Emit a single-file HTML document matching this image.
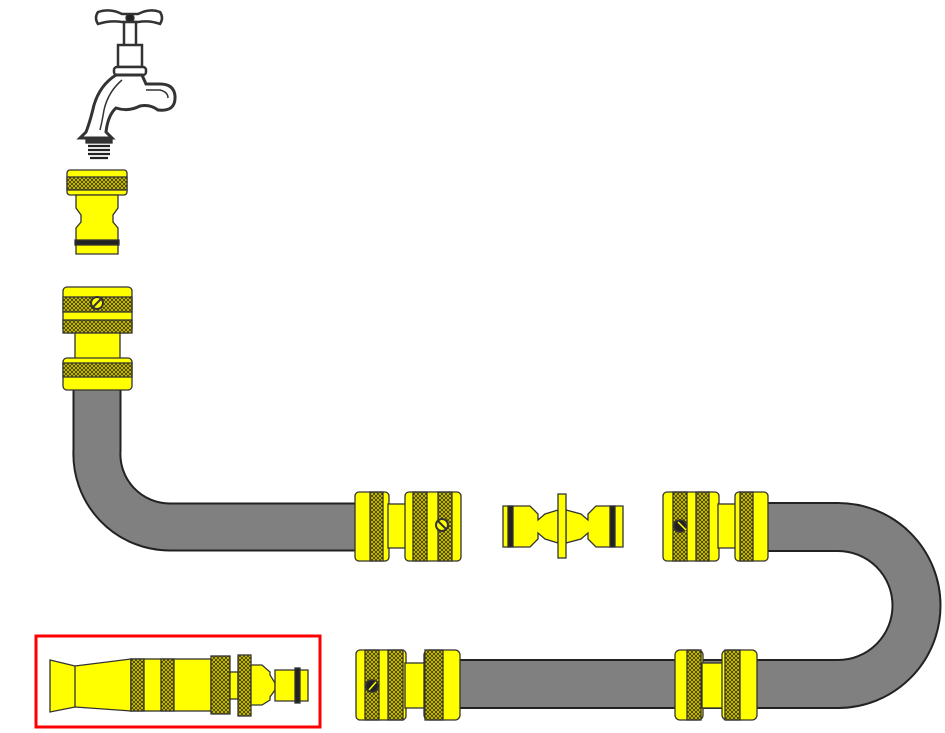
<!DOCTYPE html>
<html><head><meta charset="utf-8"><style>html,body{margin:0;padding:0;background:#fff}svg{display:block}</style></head><body>
<svg width="945" height="733" viewBox="0 0 945 733" xmlns="http://www.w3.org/2000/svg">
<defs>
<pattern id="k" width="4" height="4" patternUnits="userSpaceOnUse">
<rect width="4" height="4" fill="#e8e000"/>
<path d="M0 0L4 4M4 0L0 4" stroke="#4a4400" stroke-width="1"/>
</pattern>
</defs>
<g fill="none" stroke-linecap="butt">
<path d="M97 385 L97 450 A73 73 0 0 0 170 527 L362 527" stroke="#222" stroke-width="49"/>
<path d="M97 385 L97 450 A73 73 0 0 0 170 527 L362 527" stroke="#808080" stroke-width="45"/>
<path d="M760 527 L838 527 A78 78 0 0 1 838 684 L455 684" stroke="#222" stroke-width="50"/>
<path d="M760 527 L838 527 A78 78 0 0 1 838 684 L455 684" stroke="#808080" stroke-width="46"/>
</g>
<g stroke="#333" stroke-width="1.3">
<path d="M98 12 Q110 8 122 14 L138 14 Q150 8 160 12 Q164 18 160 24 Q150 20 138 22 L122 22 Q110 20 98 24 Q94 18 98 12Z" fill="#fff" stroke-width="2.5"/>
<circle cx="130" cy="18" r="4" fill="#222"/>
<rect x="124" y="22" width="12" height="24" fill="#fff" stroke-width="2.5"/>
<rect x="118" y="45" width="24" height="22" fill="#fff" stroke-width="2.5"/>
<rect x="114" y="67" width="32" height="8" rx="3" fill="#fff" stroke-width="2.5"/>
<path d="M116 75 Q100 85 94 105 Q90 122 86 132 L80 138 L112 138 L106 132 Q108 115 116 108 Q128 112 140 106 Q150 104 158 110 Q176 112 175 96 Q174 84 160 84 L146 84 L142 75Z" fill="#fff" stroke-width="3"/>
<path d="M122 80 Q108 92 104 110 Q102 122 100 130 M146 90 L160 90 Q168 92 168 98" fill="none" stroke-width="1.5"/>
<rect x="86" y="138" width="26" height="5" fill="#333"/>
<g stroke="#222" stroke-width="2.2"><path d="M88 146 L110 146 M88 150 L110 150 M88 154 L110 154 M90 158 L108 158"/></g>
<rect x="67" y="170" width="60" height="25" rx="3" fill="#ff0"/>
<rect x="67" y="177" width="60" height="13" fill="url(#k)"/>
<path d="M76 195 L118 195 L118 208 L113 215 L113 222 L118 228 L118 254 L76 254 L76 228 L81 222 L81 215 L76 208Z" fill="#ff0"/>
<rect x="75" y="240" width="44" height="5" fill="#222"/>
<rect x="63" y="287" width="69" height="46" rx="4" fill="#ff0"/>
<rect x="63" y="297" width="69" height="15" fill="url(#k)"/>
<rect x="63" y="320" width="69" height="13" fill="url(#k)"/>
<rect x="75" y="333" width="45" height="26" fill="#ff0"/>
<rect x="63" y="358" width="69" height="32" rx="4" fill="#ff0"/>
<rect x="63" y="363" width="69" height="14" fill="url(#k)"/>
<circle cx="97" cy="303" r="6" fill="#ff0" stroke-width="2"/>
<path d="M93 307 L101 299" stroke-width="2"/>
<rect x="355" y="492" width="34" height="69" rx="4" fill="#ff0"/>
<rect x="370" y="492" width="13" height="69" fill="url(#k)"/>
<rect x="388" y="504" width="18" height="44" fill="#ff0"/>
<rect x="405" y="492" width="56" height="69" rx="4" fill="#ff0"/>
<rect x="413" y="492" width="14" height="69" fill="url(#k)"/>
<rect x="438" y="492" width="14" height="69" fill="url(#k)"/>
<circle cx="442" cy="525" r="6" fill="#ff0" stroke-width="2"/>
<path d="M438 521 L446 529" stroke-width="2"/>
<path d="M503 506 L530 506 L538 514 L538 520 L545 514 L558 510 L558 543 L545 539 L538 533 L538 539 L530 547 L503 547Z" fill="#ff0"/>
<path d="M623 506 L596 506 L588 514 L588 520 L581 514 L566 510 L566 543 L581 539 L588 533 L588 539 L596 547 L623 547Z" fill="#ff0"/>
<rect x="508" y="506" width="5" height="41" fill="#222"/>
<rect x="610" y="506" width="5" height="41" fill="#222"/>
<rect x="558" y="494" width="8" height="64" fill="#ff0"/>
<rect x="663" y="492" width="56" height="69" rx="4" fill="#ff0"/>
<rect x="673" y="492" width="14" height="69" fill="url(#k)"/>
<rect x="696" y="492" width="13" height="69" fill="url(#k)"/>
<rect x="718" y="504" width="18" height="44" fill="#ff0"/>
<rect x="735" y="492" width="33" height="69" rx="4" fill="#ff0"/>
<rect x="740" y="492" width="13" height="69" fill="url(#k)"/>
<circle cx="680" cy="526" r="6" fill="#222" stroke-width="1.5"/>
<path d="M678 522 L686 530" stroke="#ff0" stroke-width="1.5"/>
<rect x="356" y="650" width="50" height="70" rx="4" fill="#ff0"/>
<rect x="365" y="650" width="14" height="70" fill="url(#k)"/>
<rect x="388" y="650" width="15" height="70" fill="url(#k)"/>
<rect x="405" y="663" width="20" height="45" fill="#ff0"/>
<rect x="424" y="650" width="36" height="70" rx="5" fill="#ff0"/>
<rect x="425" y="650" width="18" height="70" fill="url(#k)"/>
<circle cx="372" cy="686" r="6" fill="#222" stroke-width="1.5"/>
<path d="M369 690 L376 682" stroke="#ff0" stroke-width="1.5"/>
<rect x="675" y="650" width="28" height="70" rx="5" fill="#ff0"/>
<rect x="687" y="650" width="14" height="70" fill="url(#k)"/>
<rect x="702" y="663" width="21" height="45" fill="#ff0"/>
<rect x="722" y="650" width="35" height="70" rx="5" fill="#ff0"/>
<rect x="725" y="650" width="15" height="70" fill="url(#k)"/>
<path d="M50 660 L75 666 L131 659 L131 711 L75 707 L50 712Z" fill="#ff0"/>
<path d="M75 666 L75 707" fill="none"/>
<rect x="131" y="659" width="80" height="52" fill="#ff0"/>
<rect x="131" y="659" width="13" height="52" fill="url(#k)"/>
<rect x="161" y="659" width="13" height="52" fill="url(#k)"/>
<rect x="211" y="656" width="19" height="58" fill="url(#k)"/>
<rect x="230" y="672" width="8" height="27" fill="#ff0"/>
<rect x="238" y="655" width="13" height="61" fill="url(#k)"/>
<path d="M251 665 L262 665 L270 672 L270 675 L275 683 L275 690 L270 697 L270 700 L262 705 L251 705Z" fill="#ff0"/>
<path d="M275 670 L308 670 L308 701 L275 701Z" fill="#ff0"/>
<rect x="295" y="668" width="5" height="35" fill="#222"/>
</g>
<rect x="36" y="636" width="284" height="91" fill="none" stroke="#f00" stroke-width="3"/>
</svg>
</body></html>
